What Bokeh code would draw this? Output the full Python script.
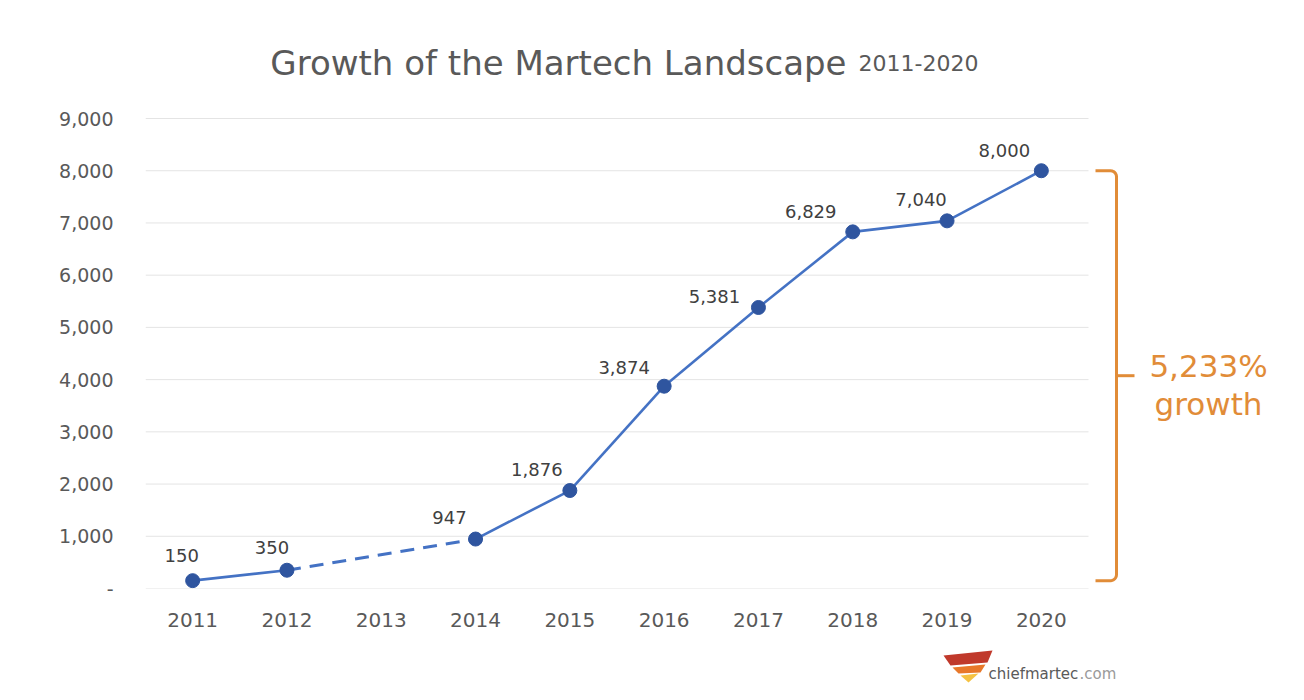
import numpy as np
from bokeh.plotting import figure
from bokeh.layouts import column
from bokeh.models import Range1d, FixedTicker, NumeralTickFormatter, ColumnDataSource
from bokeh.core.properties import value
from bokeh.embed import file_html
from bokeh.resources import INLINE

# ---------------- data ----------------
years = [2011, 2012, 2013, 2014, 2015, 2016, 2017, 2018, 2019, 2020]
tools = [150, 350, None, 947, 1876, 3874, 5381, 6829, 7040, 8000]
y_ticks = [0, 1000, 2000, 3000, 4000, 5000, 6000, 7000, 8000, 9000]
title_main = "Growth of the Martech Landscape"
title_years = "2011-2020"
growth_word = "growth"
brand_name = "chiefmartec"
brand_tld = ".com"

# label placement (screen px, relative to each point) -- style only
label_dx = [-11, -15, 0, -26, -33, -40, -44, -42, -26, -37]
label_dy = [-25, -23, 0, -22, -21, -19, -11, -20, -21, -20]

# ---------------- styles ----------------
FONT = "DejaVu Sans"
GRAY = "#595959"
DARK = "#404040"
LINE = "#4472C4"
DOT = "#2F559F"
ORANGE = "#E18C38"
GRID = "#E4E4E4"

W = 1300
ML = 145                      # frame left (page px)
FRAME_BOTTOM = 588            # page y of value 0
H_MAIN = 640
H_LOGO = 56
PX = 943 / 10.0               # px per year
X0 = years[0] - 0.5
x_end = X0 + (W - ML) / PX
PY = 470.0 / y_ticks[-1]      # px per unit
y_end = FRAME_BOTTOM / PY


def fx(page_x):
    return X0 + (page_x - ML) / PX


def fy(page_y):
    return (FRAME_BOTTOM - page_y) / PY


p = figure(width=W, height=H_MAIN, output_backend="svg", toolbar_location=None,
           x_range=Range1d(X0, x_end), y_range=Range1d(0, y_end),
           min_border_left=ML, min_border_right=0, min_border_top=0,
           min_border_bottom=H_MAIN - FRAME_BOTTOM,
           background_fill_color="white", border_fill_color="white")
p.outline_line_color = None
p.grid.visible = False

# gridlines only across the year span
grid_x0 = years[0] - 0.5
grid_x1 = years[-1] + 0.5
p.segment(x0=[grid_x0] * len(y_ticks), x1=[grid_x1] * len(y_ticks),
          y0=y_ticks, y1=y_ticks, line_color=GRID, line_width=1)

# axes
p.xaxis.ticker = FixedTicker(ticks=years)
p.xaxis.axis_line_color = None
p.xaxis.major_tick_line_color = None
p.xaxis.minor_tick_line_color = None
p.xaxis.major_label_standoff = 18
p.xaxis.major_label_text_font = FONT
p.xaxis.major_label_text_font_size = "20px"
p.xaxis.major_label_text_color = GRAY

p.yaxis.ticker = FixedTicker(ticks=y_ticks)
p.yaxis.formatter = NumeralTickFormatter(format="0,0")
p.yaxis.major_label_overrides = {0: "-"}
p.yaxis.axis_line_color = None
p.yaxis.major_tick_line_color = None
p.yaxis.minor_tick_line_color = None
p.yaxis.major_label_standoff = 26
p.yaxis.major_label_text_font = FONT
p.yaxis.major_label_text_font_size = "19px"
p.yaxis.major_label_text_color = GRAY

# line segments: solid for consecutive years, dashed across gaps
valid = [(y, v) for y, v in zip(years, tools) if v is not None]
for (ya, va), (yb, vb) in zip(valid[:-1], valid[1:]):
    if yb - ya == 1:
        p.line([ya, yb], [va, vb], line_color=LINE, line_width=2.6)
    else:
        p.line([ya, yb], [va, vb], line_color=LINE, line_width=3,
               line_dash="14 9")

vx = [y for y, v in valid]
vy = [v for y, v in valid]
p.scatter(vx, vy, size=14, fill_color=DOT, line_color=DOT, marker="circle")

# data labels
lab = ColumnDataSource(dict(
    x=vx, y=vy, t=["{:,}".format(v) for v in vy],
    dx=[d for d, v in zip(label_dx, tools) if v is not None],
    dy=[d for d, v in zip(label_dy, tools) if v is not None]))
p.text(x="x", y="y", text="t", x_offset="dx", y_offset="dy", source=lab,
       text_align="center", text_baseline="middle",
       text_font=value(FONT), text_font_size="18px", text_color=DARK)

# bracket spanning first value to peak
top = max(vy)
bot = vy[0]
mid = (top + bot) / 2.0
bx = fx(1116)
bl = fx(1095)
bm = fx(1134)
r_x = 6 / PX
r_y = 6 / PY
ang = np.linspace(0, np.pi / 2, 7)
top_x = [bl] + list(bx - r_x + r_x * np.sin(ang))
top_y = [top] + list(top - r_y + r_y * np.cos(ang))
bot_x = list(bx - r_x + r_x * np.cos(ang)) + [bl]
bot_y = list(bot + r_y - r_y * np.sin(ang)) + [bot]
p.line(top_x + bot_x, top_y + bot_y, line_color=ORANGE, line_width=3)
p.line([bx, bm], [mid, mid], line_color=ORANGE, line_width=3)

pct = (top - bot) / bot * 100
p.text(x=[fx(1208), fx(1208)], y=[fy(365), fy(403)],
       text=["{:,.0f}%".format(pct), growth_word],
       text_align="center", text_baseline="alphabetic",
       text_font=value(FONT), text_font_size="31px", text_color=ORANGE)

# title (inside the upper, grid-free part of the frame)
p.text(x=[fx(846)], y=[fy(62)], text=[title_main], text_align="right",
       text_baseline="alphabetic", text_font=value(FONT),
       text_font_size="34px", text_color=GRAY)
p.text(x=[fx(858)], y=[fy(62)], text=[title_years], text_align="left",
       text_baseline="alphabetic", text_font=value(FONT),
       text_font_size="22px", text_color=GRAY)

# ---------------- logo strip ----------------
# frame aligned with the main plot's frame, ranges in page pixels
lg = figure(width=W, height=H_LOGO, output_backend="svg", toolbar_location=None,
            x_range=Range1d(ML, W), y_range=Range1d(H_MAIN + H_LOGO, H_MAIN),
            min_border_left=ML, min_border_right=0, min_border_top=0,
            min_border_bottom=0, background_fill_color="white",
            border_fill_color="white")
lg.outline_line_color = None
lg.axis.visible = False
lg.grid.visible = False
logo_xs = [[943, 992, 987, 950], [952, 985, 980, 958], [960, 978, 968]]
logo_ys = [[655, 650, 662, 665], [667, 664, 672, 673], [675, 673, 682]]
logo_cs = ["#C0392B", "#E8782A", "#F5C242"]
lg.patches(logo_xs, logo_ys, fill_color=logo_cs, line_color=None)
lg.text(x=[988], y=[673], text=[brand_name], text_align="left",
        text_baseline="alphabetic", text_font=value(FONT),
        text_font_size="15px", text_color="#5A5A5A")
lg.text(x=[1079], y=[673], text=[brand_tld], text_align="left",
        text_baseline="alphabetic", text_font=value(FONT),
        text_font_size="15px", text_color="#9A9A9A")

layout = column(p, lg)
open("out.html", "w").write(file_html(layout, INLINE))
